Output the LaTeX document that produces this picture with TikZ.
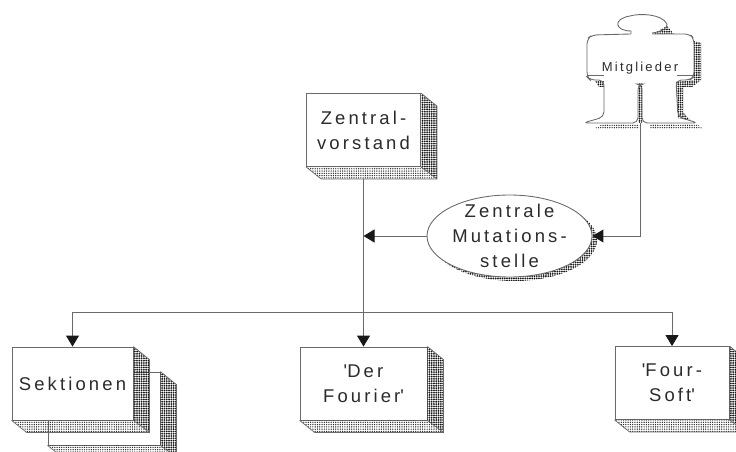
\documentclass[tikz,border=0pt]{standalone}
\usepackage{fontspec}
\setmainfont[LetterSpace=17]{Liberation Sans}
\usetikzlibrary{arrows.meta,positioning,calc,shapes.geometric,patterns.meta}
\definecolor{tinte}{HTML}{2B2B2B}
\definecolor{rand}{HTML}{6A6A6A}
\tikzset{
  blockbox/.style={rectangle, draw=rand, line width=0.5pt, fill=white, inner sep=0pt,
               minimum width=#1, minimum height=1.46cm},
  blocktext/.style={align=center, text=tinte, inner sep=0pt, font=\fontsize{10.5}{14.2}\selectfont},
  arr/.style={-{Triangle[length=2.2mm,width=2.6mm,color=black!90]}, line width=0.5pt, draw=rand},
  darkshade/.style={pattern={Dots[distance=1.3pt,radius=0.58pt]}, pattern color=black!90},
  lightshade/.style={pattern={Dots[distance=1.3pt,radius=0.4pt]}, pattern color=black!85},
}
\begin{document}
\begin{tikzpicture}[x=0.02cm,y=-0.02cm]
  \useasboundingbox (0,0) rectangle (736,452);
  % Kaesten
  \node[blockbox=2.24cm] (sektionenb) at (104,408.5) {};
  \node[blockbox=2.42cm] (sektionen) at (72.5,383.5) {};
  \node[blockbox=2.28cm] (vorstand) at (363.5,130) {};
  \node[blockbox=2.54cm] (fourier) at (363.5,383.5) {};
  \node[blockbox=2.28cm] (foursoft) at (672,383) {};
  \foreach \b in {sektionenb,sektionen,vorstand,fourier,foursoft}{
    \fill[darkshade] (\b.north east) -- ($(\b.north east)+(16,13)$) -- ($(\b.south east)+(16,12)$) -- (\b.south east) -- cycle;
    \fill[lightshade] (\b.south west) -- ($(\b.south west)+(15,12)$) -- ($(\b.south east)+(16,12)$) -- (\b.south east) -- cycle;
    \draw[rand, line width=0.4pt] (\b.north east) -- ($(\b.north east)+(16,13)$) -- ($(\b.south east)+(16,12)$) -- ($(\b.south west)+(15,12)$) -- (\b.south west);
    \draw[rand, line width=0.4pt] (\b.south east) -- ($(\b.south east)+(16,12)$);
  }
  \node[blocktext] at (sektionen) {Sektionen};
  \node[blocktext] at (vorstand) {Zentral-\\vorstand};
  \node[blocktext] at (fourier) {\textquotesingle Der\\Fourier\textquotesingle};
  \node[blocktext] at (foursoft) {\textquotesingle Four-\\Soft\textquotesingle};
  % Ellipse
  \fill[darkshade] (514.5,240) ellipse [x radius=82.5, y radius=41];
  \node[ellipse, draw=rand, line width=0.5pt, fill=white, inner sep=0pt,
        minimum width=3.3cm, minimum height=1.64cm] (mutation) at (509.5,236) {};
  \node[blocktext] at (mutation) {Zentrale\\Mutations-\\stelle};
  % Figur
  \fill[darkshade] (653,34) -- (667,26) -- (674,34) -- cycle;
  \fill[darkshade] (694,41) -- (701,43) -- (701,80) -- (692,87) -- (683,87) -- (683,112) -- (690,120) -- (678,118) -- (676,82) -- (694,80) -- cycle;
  \fill[darkshade] (595,81) -- (604,81) -- (604,87) -- (599,87) -- cycle;
  \fill[darkshade] (638,84) -- (642,84) -- (642,123) -- (638,123) -- cycle;
  \fill[lightshade] (603,124) -- (639,124) -- (639,129) -- (593,129) -- cycle;
  \fill[lightshade] (650,124) -- (697,124) -- (703,129) -- (650,129) -- cycle;
  \draw[rand, line width=0.5pt, rounded corners=3pt] (652,34) -- (690,34) -- (694,39) -- (694,77) -- (690,80) -- (676,80)
    -- (678,117) -- (698,123) -- (642,123) -- (642,84) -- (638,84) -- (638,123) -- (583,123) -- (604,117) -- (604,80)
    -- (590,80) -- (587,77) -- (587,39) -- (592,35) -- (631,34);
  \draw[rand, line width=0.5pt] (631,34) -- (631,31) .. controls (615,31) and (612,19) .. (630,16)
    .. controls (640,13) and (662,14) .. (667,24) .. controls (668,29) and (660,32) .. (652,33);
  \draw[rand, line width=0.5pt] (587,75) -- (604,75) (677,75) -- (694,75);
  \node[blocktext, font=\fontsize{7.4}{9}\selectfont] (mitglieder) at (640,68) {Mitglieder};
  % Verbindungen
  \coordinate (fuss) at (640,123);
  \coordinate (verteiler) at (363.5,312);
  \draw[arr] (fuss) |- (mutation.east);
  \draw[arr] (mutation.west) -- (mutation.west -| vorstand.south);
  \draw[arr] ($(vorstand.south)+(0,12)$) -- (fourier.north);
  \draw[arr] (verteiler) -| (sektionen.north);
  \draw[arr] (verteiler) -| (foursoft.north);
\end{tikzpicture}
\end{document}
